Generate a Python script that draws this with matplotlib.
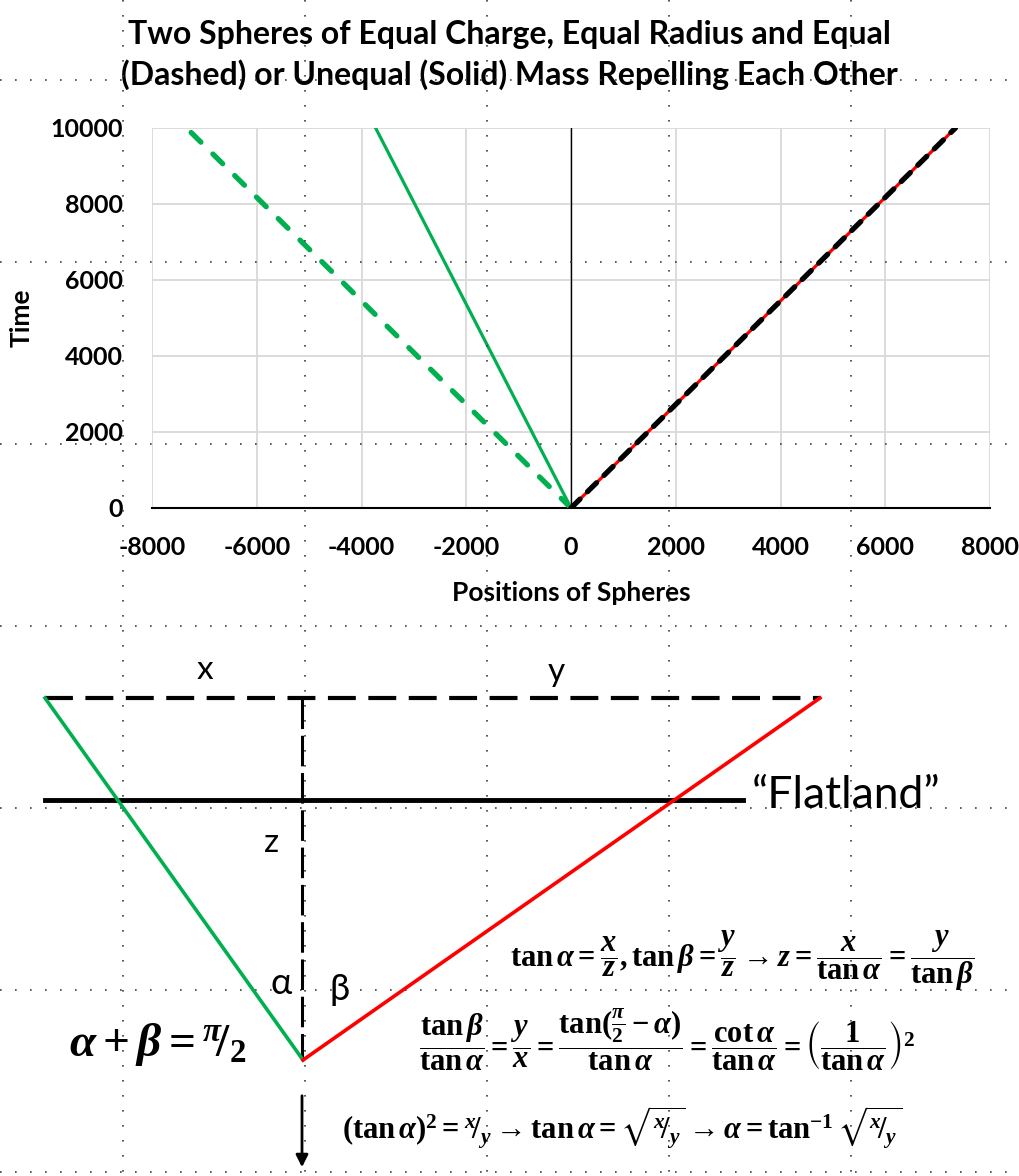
import matplotlib
matplotlib.use("Agg")
import matplotlib.pyplot as plt

plt.rcParams['mathtext.fontset'] = 'custom'
plt.rcParams['mathtext.rm'] = 'Liberation Serif:bold'
plt.rcParams['mathtext.it'] = 'Liberation Serif:italic:bold'
plt.rcParams['mathtext.bf'] = 'Liberation Serif:bold'
plt.rcParams['mathtext.fallback'] = 'stix'
plt.rcParams['axes.unicode_minus'] = False

# ---------------- data ----------------
time = [0, 2000, 4000, 6000, 8000, 10000]
equal_left = [0, -1468, -2936, -4404, -5872, -7340]      # green dashed
equal_right = [0, 1468, 2936, 4404, 5872, 7340]          # black dashed
unequal_left = [0, -746, -1492, -2238, -2984, -3730]     # green solid
unequal_right = [0, 1468, 2936, 4404, 5872, 7340]        # red solid

x_ticks = [-8000, -6000, -4000, -2000, 0, 2000, 4000, 6000, 8000]
y_ticks = [0, 2000, 4000, 6000, 8000, 10000]

title = "Two Spheres of Equal Charge, Equal Radius and Equal\n(Dashed) or Unequal (Solid) Mass Repelling Each Other"
x_label = "Positions of Spheres"
y_label = "Time"

# diagram (drawn in a pixel-space overlay)
diag_top_x = [45, 820]
diag_top_y = [698, 698]
diag_green_x = [45, 303]
diag_green_y = [698, 1060]
diag_red_x = [303, 820]
diag_red_y = [1060, 698]
flatland_x = [45, 743]
flatland_y = [800, 800]
vert_x = [302, 302]
vert_y = [698, 1060]
arrow_from = (302, 1093)
arrow_to = (302, 1170)

grid_dot_x = [123, 305, 487, 669, 851]
grid_dot_y = [80, 262, 444, 626, 808, 990, 1172]

W, H = 1019, 1176
fig = plt.figure(figsize=(W / 100, H / 100), dpi=100)

# ---------------- chart ----------------
L, R, T, B = 152, 990, 128, 508
ax = fig.add_axes([L / W, 1 - B / H, (R - L) / W, (B - T) / H])
ax.set_xlim(-8000, 8000)
ax.set_ylim(0, 10000)
ax.set_xticks(x_ticks)
ax.set_yticks(y_ticks)
ax.grid(True, color='#d9d9d9', lw=1.3)
ax.set_axisbelow(True)
for s in ['top', 'right', 'left']:
    ax.spines[s].set_visible(False)
ax.spines['bottom'].set_color('black')
ax.spines['bottom'].set_linewidth(1.5)
ax.axvline(0, color='black', lw=1.0, zorder=1)
ax.tick_params(axis='x', length=0, pad=20, labelsize=18)
ax.tick_params(axis='y', length=0, pad=21, labelsize=18)
for lab in ax.get_xticklabels() + ax.get_yticklabels():
    lab.set_fontweight('bold')
    lab.set_family('Lato')

ax.plot(unequal_left, time, color='#00b050', lw=2.3, zorder=3)
ax.plot(equal_left, time, color='#00b050', lw=3.8, zorder=3,
        dashes=(2.6, 3.2), dash_capstyle='round')
ax.plot(unequal_right, time, color='#ff0000', lw=2.3, zorder=3)
ax.plot(equal_right, time, color='black', lw=3.8, zorder=4,
        dashes=(2.4, 2.0), dash_capstyle='round')
ax.set_xlabel(x_label, fontsize=19, fontweight='bold', family='Lato', labelpad=16)
ax.set_ylabel(y_label, fontsize=19, fontweight='bold', family='Lato', labelpad=12)
fig.text(0.5, 1 - 55 / H, title, ha='center', va='center', fontsize=23,
         fontweight='bold', family='Lato', linespacing=1.4)

# ---------------- overlay: diagram + dotted grid ----------------
ov = fig.add_axes([0, 0, 1, 1], zorder=5)
ov.set_xlim(0, W)
ov.set_ylim(H, 0)
ov.axis('off')
ov.patch.set_alpha(0)

for gx in grid_dot_x:
    ov.plot([gx, gx], [0, H], color='#404040', lw=1.2, linestyle=(0, (1, 8)), zorder=1)
for gy in grid_dot_y:
    ov.plot([0, W], [gy, gy], color='#404040', lw=1.2, linestyle=(0, (1, 8)), zorder=1)

ov.plot(diag_top_x, diag_top_y, color='black', lw=3.0, dashes=(6.7, 3.0), zorder=3)
ov.plot(flatland_x, flatland_y, color='black', lw=3.5, zorder=3)
ov.plot(vert_x, vert_y, color='black', lw=2.2, dashes=(10, 2.2), zorder=3)
ov.plot(diag_green_x, diag_green_y, color='#00b050', lw=2.6, zorder=4)
ov.plot(diag_red_x, diag_red_y, color='#ff0000', lw=2.6, zorder=4)
ov.annotate('', xy=arrow_to, xytext=arrow_from,
            arrowprops=dict(arrowstyle='-|>', lw=2.0, color='black', mutation_scale=18))

ov.text(205, 670, 'x', fontsize=24, family='Lato', ha='center', va='center')
ov.text(556, 672, 'y', fontsize=24, family='Lato', ha='center', va='center')
ov.text(272, 843, 'z', fontsize=24, family='Lato', ha='center', va='center')
ov.text(281, 984, 'α', fontsize=26, family='Lato', ha='center', va='center')
ov.text(340, 990, 'β', fontsize=26, family='Lato', ha='center', va='center')
ov.text(752, 796, '“Flatland”', fontsize=32, family='Lato', ha='left', va='center')

ov.text(158, 1045, r'$\alpha+\beta={}^{\pi}\!/_{2}$', fontsize=34, ha='center', va='center')
ov.text(742, 961,
        r'$\tan\alpha=\dfrac{x}{z},\tan\beta=\dfrac{y}{z}\rightarrow z=\dfrac{x}{\tan\alpha}=\dfrac{y}{\tan\beta}$',
        fontsize=22, ha='center', va='center')
ov.text(667, 1040,
        r'$\dfrac{\tan\beta}{\tan\alpha}=\dfrac{y}{x}=\dfrac{\tan(\frac{\pi}{2}-\alpha)}{\tan\alpha}=\dfrac{\cot\alpha}{\tan\alpha}=\left(\dfrac{1}{\tan\alpha}\right)^2$',
        fontsize=22, ha='center', va='center')
ov.text(622, 1128,
        r'$(\tan\alpha)^2={}^{x}\!/_{y}\rightarrow\tan\alpha=\sqrt{{}^{x}\!/_{y}}\rightarrow\alpha=\tan^{-1}\sqrt{{}^{x}\!/_{y}}$',
        fontsize=22, ha='center', va='center')

fig.savefig('out.png', dpi=100)
